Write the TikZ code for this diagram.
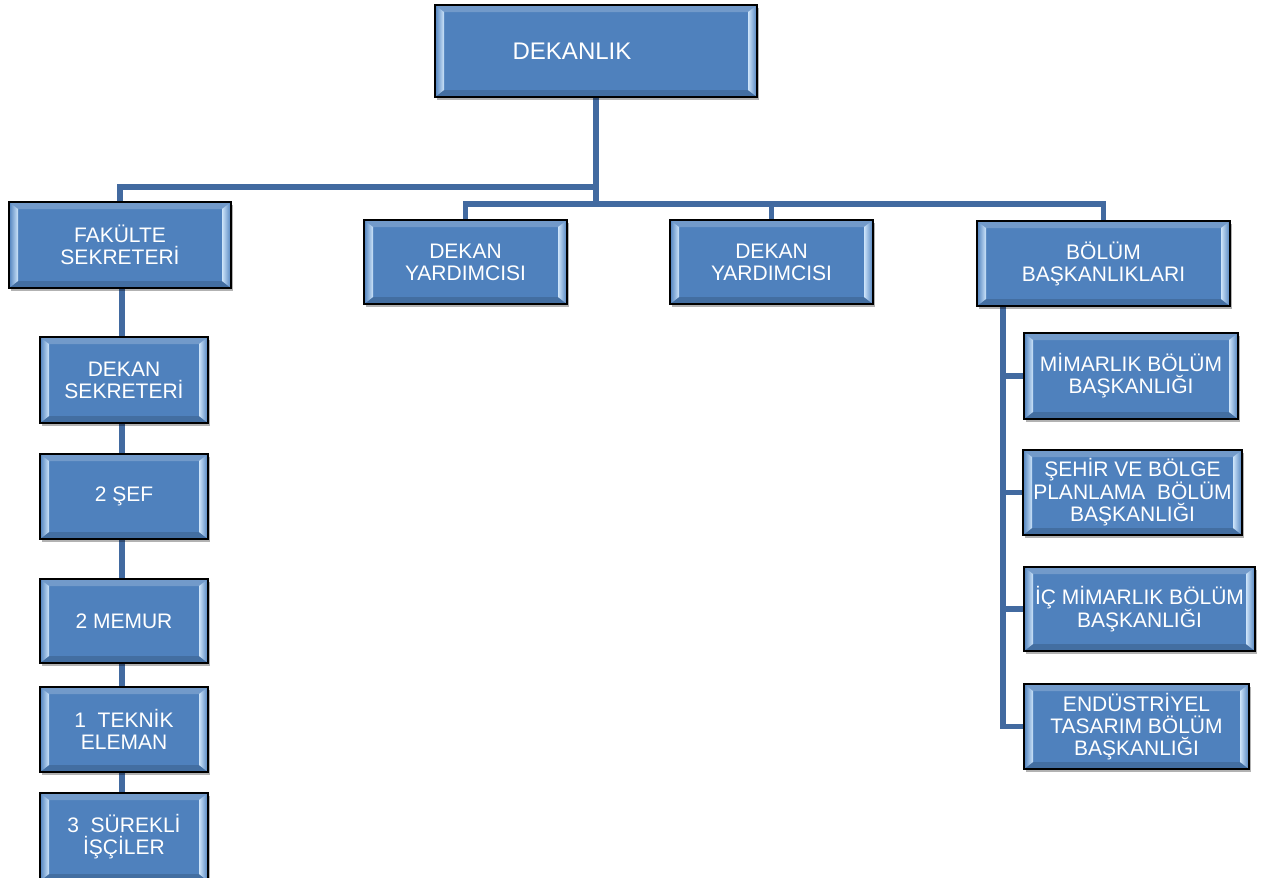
\documentclass[tikz,border=0pt]{standalone}
\usepackage{fontspec}
\setmainfont{Liberation Sans}
\usetikzlibrary{shadows,backgrounds,calc}
\definecolor{boxblue}{RGB}{79,129,189}
\definecolor{linkblue}{RGB}{66,106,160}
\definecolor{bevlight}{RGB}{205,228,250}
\tikzset{
  orgbox/.style={draw=black, line width=1.4pt, fill=boxblue, text=white, inner sep=0pt,
    align=center, font=\fontsize{21}{22}\selectfont,
    drop shadow={shadow xshift=2pt, shadow yshift=-3pt, opacity=0.3, fill=black},
    path picture={
      \path (path picture bounding box.south west) coordinate (bsw)
            (path picture bounding box.north east) coordinate (bne);
      \fill[boxblue!80!white] (bsw|-bne) -- (bne) -- ($(bne)+(-9pt,-7pt)$) -- ($(bsw|-bne)+(9pt,-7pt)$) -- cycle;
      \fill[boxblue!85!black] (bsw) -- (bne|-bsw) -- ($(bne|-bsw)+(-9pt,7pt)$) -- ($(bsw)+(9pt,7pt)$) -- cycle;
      \shade[left color=boxblue, right color=bevlight] (bsw) -- (bsw|-bne) -- ($(bsw|-bne)+(9pt,-7pt)$) -- ($(bsw)+(9pt,7pt)$) -- cycle;
      \shade[left color=bevlight, right color=boxblue] (bne) -- (bne|-bsw) -- ($(bne|-bsw)+(-9pt,7pt)$) -- ($(bne)+(-9pt,-7pt)$) -- cycle;
    }},
  link/.style={draw=linkblue, line width=5.5pt}
}
\begin{document}
\begin{tikzpicture}[x=1pt,y=-1pt]
\useasboundingbox (0,0) rectangle (1272,878);
% top
\node[orgbox, minimum width=322pt, minimum height=92pt, font=\fontsize{24}{28}\selectfont] (dek) at (596,51) {DEKANLIK\hspace*{48pt}};
% second row
\node[orgbox, minimum width=222pt, minimum height=86pt] (fak) at (120,245) {FAKÜLTE\\SEKRETERİ};
\node[orgbox, minimum width=203pt, minimum height=84pt] (dy1) at (465.5,262) {DEKAN\\YARDIMCISI};
\node[orgbox, minimum width=203pt, minimum height=84pt] (dy2) at (771.5,262) {DEKAN\\YARDIMCISI};
\node[orgbox, minimum width=253pt, minimum height=85pt] (bol) at (1103.5,263.5) {BÖLÜM\\BAŞKANLIKLARI};
% left column
\node[orgbox, minimum width=168pt, minimum height=86pt] (dsek) at (124,380) {DEKAN\\SEKRETERİ};
\node[orgbox, minimum width=168pt, minimum height=85pt] (sef) at (124,496.5) {2 ŞEF};
\node[orgbox, minimum width=168pt, minimum height=84pt] (mem) at (124,621) {2 MEMUR};
\node[orgbox, minimum width=168pt, minimum height=85pt] (tek) at (124,729.5) {1\ \ TEKNİK\\ELEMAN};
\node[orgbox, minimum width=168pt, minimum height=88pt] (sure) at (124,837) {3\ \ SÜREKLİ\\İŞÇİLER};
% right column
\node[orgbox, minimum width=214pt, minimum height=86pt] (mim) at (1131,376) {MİMARLIK BÖLÜM\\BAŞKANLIĞI};
\node[orgbox, minimum width=219pt, minimum height=85pt] (seh) at (1132.5,492.5) {ŞEHİR VE BÖLGE\\PLANLAMA\ \ BÖLÜM\\BAŞKANLIĞI};
\node[orgbox, minimum width=231pt, minimum height=84pt] (ic) at (1139.5,609) {İÇ MİMARLIK BÖLÜM\\BAŞKANLIĞI};
\node[orgbox, minimum width=225pt, minimum height=85pt] (endu) at (1136.5,726.5) {ENDÜSTRİYEL\\TASARIM BÖLÜM\\BAŞKANLIĞI};
% connectors
\begin{scope}[on background layer]
  \fill[white] (0,0) rectangle (1272,878);
  \coordinate (j1) at (596,187);
  \coordinate (j2) at (596,204);
  \draw[link] (dek.south) -- (j2);
  \draw[link] (j1) -| (fak.north);
  \draw[link] (dy1.north) |- (j2) -| (bol.north);
  \draw[link] (j2) -| (dy2.north);
  \coordinate (lx) at (122,0);
  \draw[link] (fak.south -| lx) -- (sure.north -| lx);
  \coordinate (rx) at (1003,0);
  \draw[link] (bol.south -| rx) |- (endu.west);
  \foreach \n in {mim,seh,ic} \draw[link] (rx |- \n.west) -- (\n.west);
\end{scope}
\end{tikzpicture}
\end{document}
